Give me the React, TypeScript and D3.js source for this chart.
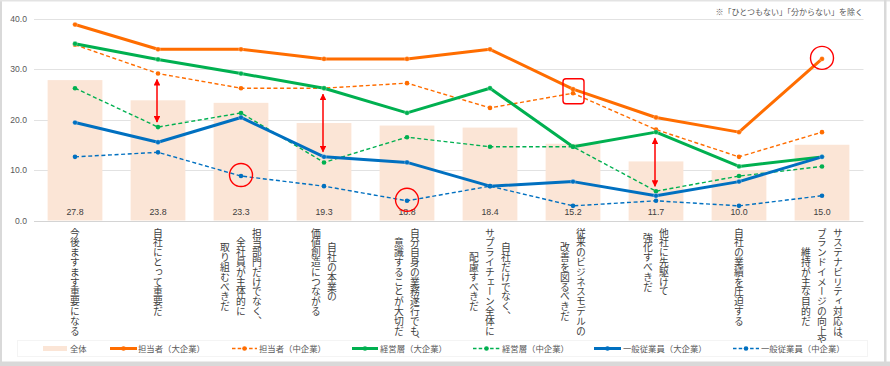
import React from 'react';
import * as d3 from 'd3';

const categoryLines: string[][] = [
  ['今後ますます重要になる'],
  ['自社にとって重要だ'],
  ['担当部門だけでなく、', '全社員が主体的に', '取り組むべきだ'],
  ['自社の本業の', '価値創造につながる'],
  ['自分自身の業務遂行でも、', '意識することが大切だ'],
  ['自社だけでなく、', 'サプライチェーン全体に', '配慮すべきだ'],
  ['従来のビジネスモデルの', '改善を図るべきだ'],
  ['他社に先駆けて', '強化すべきだ'],
  ['自社の業績を圧迫する'],
  ['サステナビリティ対応は、', 'ブランドイメージの向上や', '維持が主な目的だ'],
];
const categories = categoryLines.map((l) => l.join(''));

const totalValues = [27.8, 23.8, 23.3, 19.3, 18.8, 18.4, 15.2, 11.7, 10.0, 15.0];
const tantoLarge = [38.8, 33.9, 33.9, 32.0, 32.0, 33.9, 26.0, 20.4, 17.5, 32.0];
const tantoMid = [34.8, 29.1, 26.2, 26.2, 27.2, 22.3, 25.2, 18.0, 12.6, 17.5];
const keieiLarge = [35.0, 31.9, 29.1, 26.2, 21.3, 26.2, 14.6, 17.5, 10.7, 12.6];
const keieiMid = [26.2, 18.5, 21.3, 11.5, 16.5, 14.6, 14.6, 5.8, 8.8, 10.7];
const ippanLarge = [19.4, 15.5, 20.4, 12.6, 11.5, 6.8, 7.7, 4.9, 7.7, 12.6];
const ippanMid = [12.6, 13.5, 8.8, 6.8, 3.9, 6.8, 2.9, 3.9, 2.9, 4.9];
const yTicks = [0, 10, 20, 30, 40];

const seriesNames = ['担当者（大企業）', '担当者（中企業）', '経営層（大企業）', '経営層（中企業）', '一般従業員（大企業）', '一般従業員（中企業）'];
const seriesValues = [tantoLarge, tantoMid, keieiLarge, keieiMid, ippanLarge, ippanMid];
const seriesColors = ['#FF6D00', '#FF6D00', '#00B050', '#00B050', '#0070C0', '#0070C0'];
const seriesDashed = [false, true, false, true, false, true];
const totalName = '全体';
const noteText = '※「ひとつもない」「分からない」を除く';

// annotations: [category index, series index]
const arrowAnnotations: [number, number, number][] = [
  [1, 1, 3],
  [3, 2, 4],
  [7, 2, 3],
];
const circleAnnotations: [number, number][] = [
  [2, 5],
  [4, 5],
  [9, 0],
];
const boxAnnotations: [number, number, number][] = [[6, 0, 1]];

const W = 890;
const H = 366;
const JP = '"Noto Sans CJK JP", "Noto Sans", sans-serif';

export default function App() {
  const x = d3
    .scaleBand<string>()
    .domain(categories)
    .range([33.5, 863.5])
    .paddingInner(0.34)
    .paddingOuter(0.17);
  const y = d3.scaleLinear().domain([0, 40]).range([220.5, 18.5]);
  const cx = (i: number) => (x(categories[i]) as number) + x.bandwidth() / 2;

  const line = d3
    .line<number>()
    .x((_, i) => cx(i))
    .y((d) => y(d));

  const labelTop = 228;
  const charAdv = 9.8;
  const colGap = 16;

  const legendY = 348.5;
  const legendItems = [
    { type: 'bar', name: totalName, x0: 43, x1: 67, tx: 70 },
    { type: 's', idx: 0, x0: 110, x1: 137, tx: 138 },
    { type: 's', idx: 1, x0: 232, x1: 257, tx: 259 },
    { type: 's', idx: 2, x0: 352, x1: 378, tx: 380 },
    { type: 's', idx: 3, x0: 473, x1: 500, tx: 502 },
    { type: 's', idx: 4, x0: 594, x1: 621, tx: 623 },
    { type: 's', idx: 5, x0: 733, x1: 759, tx: 761 },
  ];

  return (
    <svg
      width={W}
      height={H}
      style={{ position: 'absolute', left: 0, top: 0, background: '#fff' }}
      fontFamily={JP}
    >
      <defs>
        <clipPath id="labelClip">
          <rect x={0} y={222} width={W} height={121} />
        </clipPath>
        <marker id="arrHead" viewBox="0 0 10 10" refX="9" refY="5" markerWidth="4.5" markerHeight="4.5" orient="auto-start-reverse">
          <path d="M0,0 L10,5 L0,10 z" fill="#FF0000" />
        </marker>
      </defs>
      {/* frame */}
      <rect x={0} y={0} width={W} height={H} fill="#fff" />
      <rect x={0} y={0} width={2} height={H} fill="#d9d9d9" />
      <rect x={0} y={0} width={W} height={1.5} fill="#e3e3e3" />
      <rect x={884} y={0} width={2.5} height={H} fill="#d9d9d9" />
      <rect x={0} y={361.5} width={W} height={4.5} fill="#d9d9d9" />
      <rect x={17.5} y={340.5} width={850} height={16} fill="none" stroke="#f4f4f4" strokeWidth={1} />

      {/* gridlines */}
      {yTicks.map((t) => (
        <line key={t} x1={34} x2={863.5} y1={Math.round(y(t)) + 0.5} y2={Math.round(y(t)) + 0.5} stroke={t === 0 ? '#d4d4d4' : '#e2e2e2'} strokeWidth={1} />
      ))}
      {yTicks.map((t) => (
        <text key={'t' + t} x={27} y={y(t) + 3} textAnchor="end" fontSize={8.6} fill="#595959" fontFamily="Liberation Sans, Arial, sans-serif">
          {d3.format('.1f')(t)}
        </text>
      ))}

      {/* bars */}
      {totalValues.map((v, i) => (
        <rect key={'b' + i} x={x(categories[i])} y={y(v)} width={x.bandwidth()} height={y(0) - y(v)} fill="#FBE5D6" />
      ))}
      {totalValues.map((v, i) => (
        <text key={'bl' + i} x={cx(i)} y={y(0) - 5.5} textAnchor="middle" fontSize={8.8} fill="#404040" fontFamily="Liberation Sans, Arial, sans-serif">
          {d3.format('.1f')(v)}
        </text>
      ))}

      {/* lines */}
      {seriesValues.map((vals, s) => (
        <g key={'s' + s}>
          <path
            d={line(vals) as string}
            fill="none"
            stroke={seriesColors[s]}
            strokeWidth={seriesDashed[s] ? 1.4 : 3}
            strokeDasharray={seriesDashed[s] ? '4 2.6' : undefined}
            strokeLinejoin="round"
          />
          {vals.map((v, i) => (
            <circle key={i} cx={cx(i)} cy={y(v)} r={seriesDashed[s] ? 2.3 : 2.4} fill={seriesColors[s]} stroke={seriesDashed[s] ? 'none' : '#ffffff'} strokeOpacity={0.35} strokeWidth={0.8} />
          ))}
        </g>
      ))}

      {/* annotations */}
      {arrowAnnotations.map(([c, a, b], k) => {
        const ya = y(seriesValues[a][c]);
        const yb = y(seriesValues[b][c]);
        const top = Math.min(ya, yb) + 6;
        const bot = Math.max(ya, yb) - 5;
        return (
          <line key={'a' + k} x1={cx(c) - 1} x2={cx(c) - 1} y1={top} y2={bot} stroke="#FF0000" strokeWidth={1.5} markerStart="url(#arrHead)" markerEnd="url(#arrHead)" />
        );
      })}
      {circleAnnotations.map(([c, s], k) => (
        <circle key={'c' + k} cx={cx(c)} cy={y(seriesValues[s][c]) - 1} r={11.5} fill="none" stroke="#FF0000" strokeWidth={1.4} />
      ))}
      {boxAnnotations.map(([c, a, b], k) => {
        const ym = (y(seriesValues[a][c]) + y(seriesValues[b][c])) / 2;
        return <rect key={'r' + k} x={cx(c) - 10} y={ym - 12.5} width={21} height={25} rx={3} fill="none" stroke="#FF0000" strokeWidth={1.4} />;
      })}

      {/* category labels */}
      <g clipPath="url(#labelClip)">
        {categoryLines.map((lines, i) => {
          const maxLen = d3.max(lines, (l) => l.length) as number;
          const ymid = labelTop + (maxLen * charAdv) / 2;
          const n = lines.length;
          return lines.map((l, j) => (
            <text
              key={i + '-' + j}
              x={cx(i) + ((n - 1) / 2) * colGap - j * colGap}
              y={ymid}
              textAnchor="middle"
              fontSize={charAdv}
              fill="#404040"
              style={{ writingMode: 'vertical-rl' } as any}
            >
              {l}
            </text>
          ));
        })}
      </g>

      {/* note */}
      <text x={863} y={14.5} textAnchor="end" fontSize={8} fill="#595959">
        {noteText}
      </text>

      {/* legend */}
      {legendItems.map((it, k) => (
        <g key={'lg' + k}>
          {it.type === 'bar' ? (
            <rect x={it.x0} y={legendY - 2.5} width={it.x1 - it.x0} height={5} fill="#FBE5D6" />
          ) : (
            <>
              <line
                x1={it.x0}
                x2={it.x1}
                y1={legendY}
                y2={legendY}
                stroke={seriesColors[it.idx as number]}
                strokeWidth={seriesDashed[it.idx as number] ? 1.4 : 3}
                strokeDasharray={seriesDashed[it.idx as number] ? '3.5 2.2' : undefined}
              />
              <circle cx={(it.x0 + it.x1) / 2} cy={legendY} r={2.3} fill={seriesColors[it.idx as number]} />
            </>
          )}
          <text x={it.tx} y={legendY + 3} fontSize={8.4} fill="#595959">
            {it.type === 'bar' ? it.name : seriesNames[it.idx as number]}
          </text>
        </g>
      ))}
    </svg>
  );
}
